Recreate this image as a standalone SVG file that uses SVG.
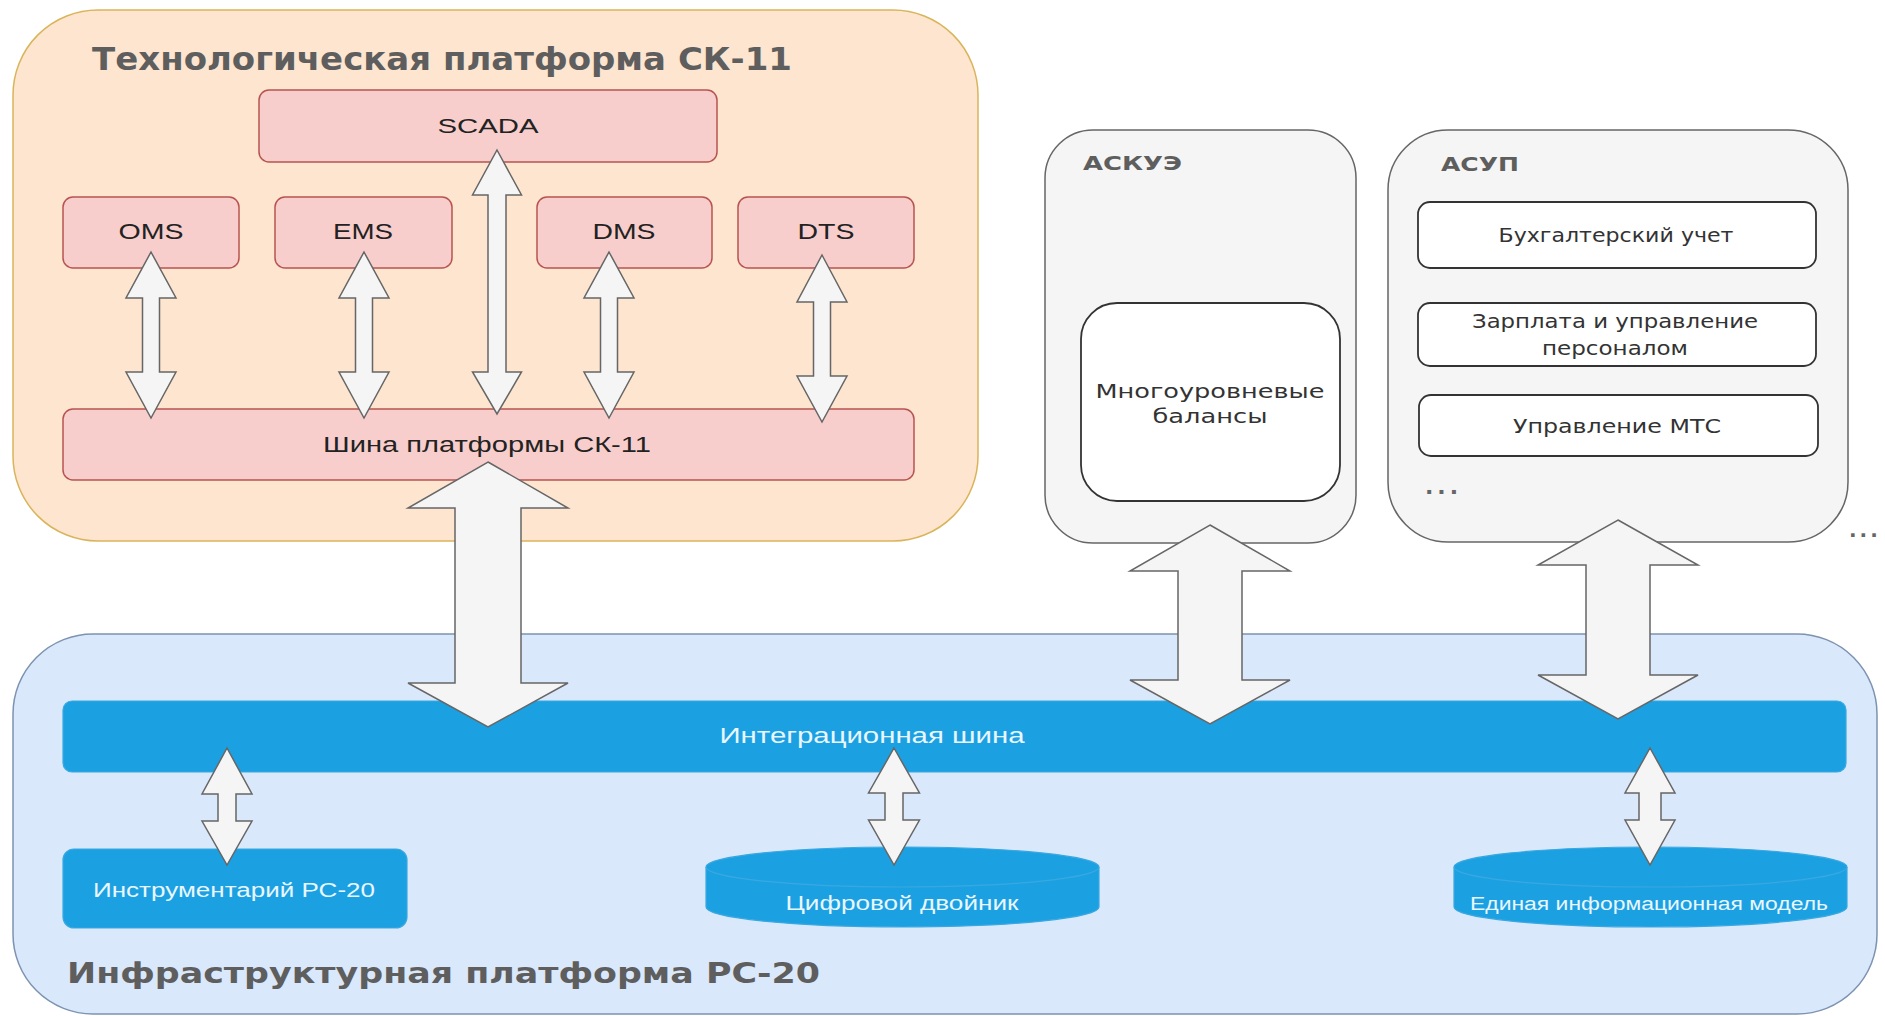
<svg xmlns="http://www.w3.org/2000/svg" width="1885" height="1016" viewBox="0 0 1885 1016">
<defs>
<style>
.pink{fill:#f8cecc;stroke:#b85450;stroke-width:1.5}
.grey{fill:#f5f5f5;stroke:#666666;stroke-width:1.5}
.white{fill:#ffffff;stroke:#333333;stroke-width:1.8}
.blue{fill:#1ba1e2;stroke:#3aa8e0;stroke-width:1.2}
.arrow{fill:#f5f5f5;stroke:#666666;stroke-width:1.5;stroke-linejoin:miter}
.t{font-family:"Liberation Sans",Arial,sans-serif;fill:#222222;text-anchor:middle}
.v{font-family:"DejaVu Sans",Verdana,sans-serif;fill:#333333;text-anchor:middle}
.title{font-family:"DejaVu Sans",Verdana,sans-serif;font-weight:bold;fill:#5e5e5e}
.wt{font-family:"Liberation Sans",Arial,sans-serif;fill:#eaf6ff;text-anchor:middle}
.dots{font-family:"DejaVu Sans",Verdana,sans-serif;font-weight:bold;fill:#666666;font-size:22px;letter-spacing:4px}
</style>
</defs>
<rect width="1885" height="1016" fill="#ffffff"/>

<g id="tech-platform">
<rect x="13" y="10" width="965" height="531" rx="85" ry="85" fill="#fde5cf" stroke="#d9b45a" stroke-width="1.5"/>
<text class="title" x="92" y="70" font-size="32" textLength="700" lengthAdjust="spacingAndGlyphs">Технологическая платформа СК-11</text>
</g>
<g id="scada"><rect class="pink" x="259" y="90" width="458" height="72" rx="10"/><text class="t" x="488" y="133" font-size="21" textLength="101" lengthAdjust="spacingAndGlyphs">SCADA</text></g>
<g id="oms"><rect class="pink" x="63" y="197" width="176" height="71" rx="10"/><text class="t" x="151" y="239" font-size="22" textLength="65" lengthAdjust="spacingAndGlyphs">OMS</text></g>
<g id="ems"><rect class="pink" x="275" y="197" width="177" height="71" rx="10"/><text class="t" x="363" y="239" font-size="22" textLength="60" lengthAdjust="spacingAndGlyphs">EMS</text></g>
<g id="dms"><rect class="pink" x="537" y="197" width="175" height="71" rx="10"/><text class="t" x="624" y="239" font-size="22" textLength="63" lengthAdjust="spacingAndGlyphs">DMS</text></g>
<g id="dts"><rect class="pink" x="738" y="197" width="176" height="71" rx="10"/><text class="t" x="826" y="239" font-size="22" textLength="57" lengthAdjust="spacingAndGlyphs">DTS</text></g>
<g id="sk11-bus"><rect class="pink" x="63" y="409" width="851" height="71" rx="10"/><text class="t" x="487" y="452" font-size="22" textLength="328" lengthAdjust="spacingAndGlyphs">Шина платформы СК-11</text></g>

<g id="askue">
<rect class="grey" x="1045" y="130" width="311" height="413" rx="48"/>
<text class="title" x="1083" y="170" font-size="19" textLength="99" lengthAdjust="spacingAndGlyphs">АСКУЭ</text>
</g>
<g id="balances">
<rect class="white" x="1081" y="303" width="259" height="198" rx="36"/>
<text class="v" x="1210" y="398" font-size="20" textLength="229" lengthAdjust="spacingAndGlyphs">Многоуровневые</text>
<text class="v" x="1210" y="423" font-size="20" textLength="115" lengthAdjust="spacingAndGlyphs">балансы</text>
</g>

<g id="asup">
<rect class="grey" x="1388" y="130" width="460" height="412" rx="60"/>
<text class="title" x="1441" y="171" font-size="19" textLength="78" lengthAdjust="spacingAndGlyphs">АСУП</text>
<text class="dots" x="1425" y="494">...</text>
</g>
<g id="accounting"><rect class="white" x="1418" y="202" width="398" height="66" rx="12"/><text class="v" x="1616" y="242" font-size="19" textLength="235" lengthAdjust="spacingAndGlyphs">Бухгалтерский учет</text></g>
<g id="salary"><rect class="white" x="1418" y="303" width="398" height="63" rx="12"/><text class="v" x="1615" y="328" font-size="19" textLength="286" lengthAdjust="spacingAndGlyphs">Зарплата и управление</text><text class="v" x="1615" y="355" font-size="19" textLength="146" lengthAdjust="spacingAndGlyphs">персоналом</text></g>
<g id="mts"><rect class="white" x="1419" y="395" width="399" height="61" rx="12"/><text class="v" x="1617" y="433" font-size="19" textLength="208" lengthAdjust="spacingAndGlyphs">Управление МТС</text></g>
<g id="more"><text class="dots" x="1849" y="537" style="font-size:20px;letter-spacing:3px">...</text></g>

<g id="infra-platform">
<rect x="13" y="634" width="1864" height="380" rx="80" ry="80" fill="#dae8fc" stroke="#7d93b0" stroke-width="1.5"/>
<text class="title" x="67" y="983" font-size="29" textLength="753" lengthAdjust="spacingAndGlyphs">Инфраструктурная платформа РС-20</text>
</g>
<g id="integration-bus"><rect class="blue" x="63" y="701" width="1783" height="71" rx="9"/><text class="wt" x="872" y="743" font-size="22" textLength="305" lengthAdjust="spacingAndGlyphs">Интеграционная шина</text></g>
<g id="toolkit"><rect class="blue" x="63" y="849" width="344" height="79" rx="11"/><text class="wt" x="234" y="897" font-size="20" textLength="282" lengthAdjust="spacingAndGlyphs">Инструментарий РС-20</text></g>
<g id="digital-twin">
<path class="blue" d="M706,867 L706,907 A196.5,20 0 0 0 1099,907 L1099,867"/>
<ellipse class="blue" cx="902.5" cy="867" rx="196.5" ry="20"/>
<text class="wt" x="902" y="910" font-size="20" textLength="233" lengthAdjust="spacingAndGlyphs">Цифровой двойник</text>
</g>
<g id="info-model">
<path class="blue" d="M1454,867 L1454,907 A196.5,20 0 0 0 1847,907 L1847,867"/>
<ellipse class="blue" cx="1650.5" cy="867" rx="196.5" ry="20"/>
<text class="wt" x="1649" y="910" font-size="18" textLength="358" lengthAdjust="spacingAndGlyphs">Единая информационная модель</text>
</g>

<g id="connectors">
<polygon class="arrow" points="151,252 176,298 159.5,298 159.5,372 176,372 151,418 126,372 142.5,372 142.5,298 126,298"/>
<polygon class="arrow" points="364,252 389,298 372.5,298 372.5,372 389,372 364,418 339,372 355.5,372 355.5,298 339,298"/>
<polygon class="arrow" points="497,150 521.5,195 506,195 506,372 521.5,372 497,414 472.5,372 488,372 488,195 472.5,195"/>
<polygon class="arrow" points="609,252 634,298 617.5,298 617.5,372 634,372 609,418 584,372 600.5,372 600.5,298 584,298"/>
<polygon class="arrow" points="822,255 847,302 830.5,302 830.5,376 847,376 822,422 797,376 813.5,376 813.5,302 797,302"/>
<polygon class="arrow" points="488,462 568,508 521,508 521,683 568,683 488,727 408,683 455,683 455,508 408,508"/>
<polygon class="arrow" points="1210,525 1290,571 1242,571 1242,680 1290,680 1210,724 1130,680 1178,680 1178,571 1130,571"/>
<polygon class="arrow" points="1618,520 1698,565 1650,565 1650,675 1698,675 1618,719 1538,675 1586,675 1586,565 1538,565"/>
<polygon class="arrow" points="227,748 252,794 236,794 236,821 252,821 227,865 202,821 218,821 218,794 202,794"/>
<polygon class="arrow" points="894,748 919.5,793 903,793 903,820 919.5,820 894,865 868.5,820 885,820 885,793 868.5,793"/>
<polygon class="arrow" points="1650,748 1675,793 1661,793 1661,820 1675,820 1650,865 1625,820 1639,820 1639,793 1625,793"/>
</g>
</svg>
